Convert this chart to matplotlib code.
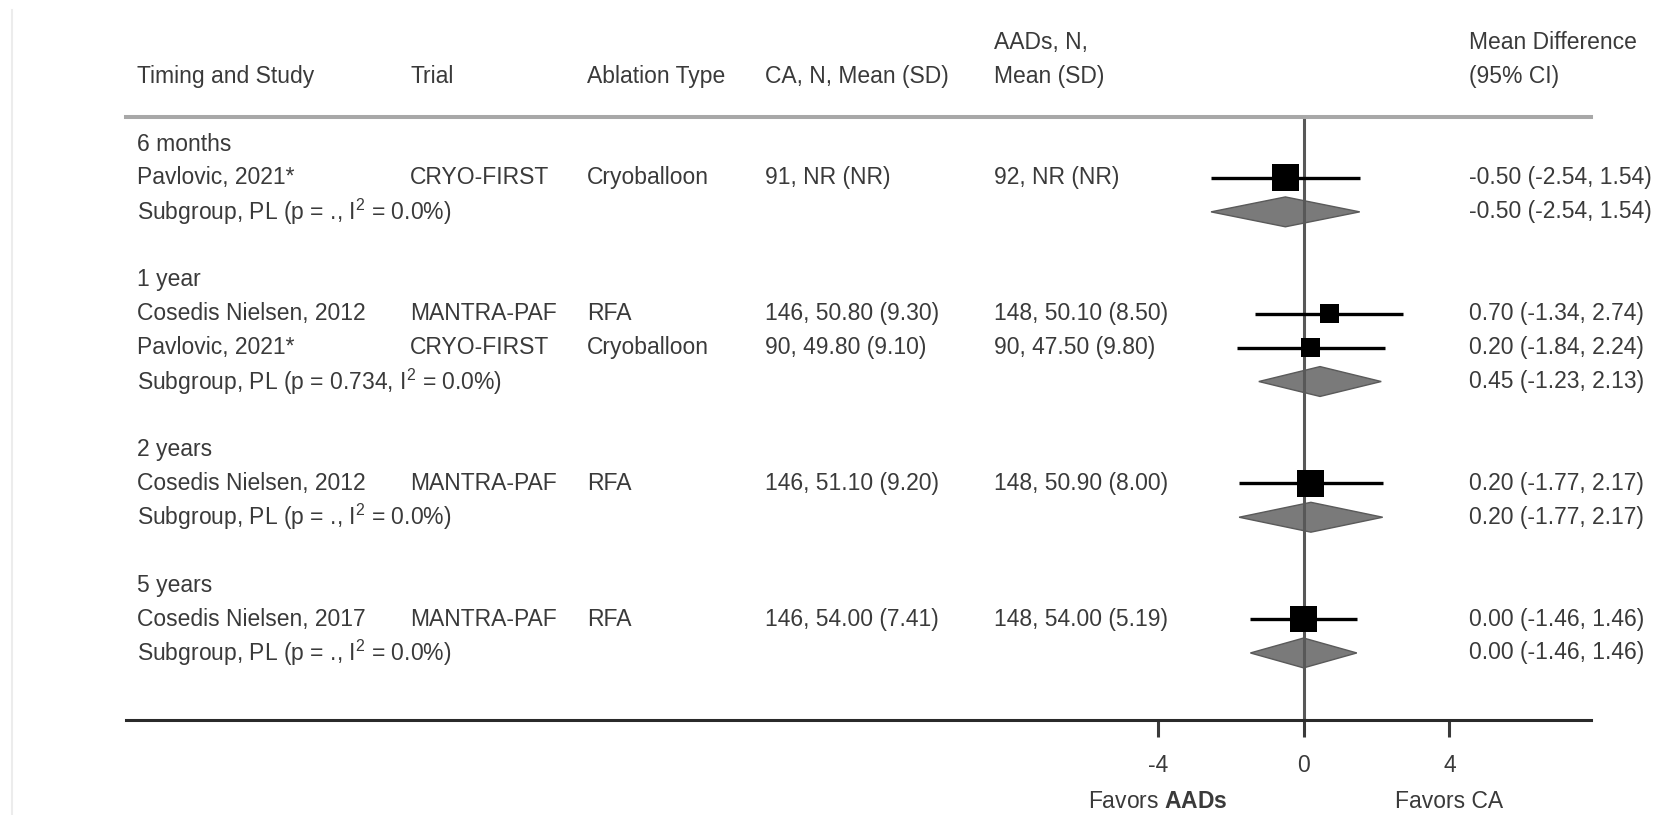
import numpy as np
import matplotlib
matplotlib.use("Agg")
import matplotlib.pyplot as plt
from matplotlib.patches import Polygon
from matplotlib.lines import Line2D
from matplotlib.transforms import blended_transform_factory

plt.rcParams['font.family'] = ['Liberation Sans', 'DejaVu Sans']
plt.rcParams['mathtext.fontset'] = 'custom'
plt.rcParams['mathtext.rm'] = 'Liberation Sans'
plt.rcParams['mathtext.bf'] = 'Liberation Sans:bold'
plt.rcParams['mathtext.default'] = 'regular'

# ---- data -------------------------------------------------------------
groups = ["6 months", "1 year", "2 years", "5 years"]
study_group = [0, 1, 1, 2, 3]
studies = ["Pavlovic, 2021*", "Cosedis Nielsen, 2012", "Pavlovic, 2021*",
           "Cosedis Nielsen, 2012", "Cosedis Nielsen, 2017"]
trials = ["CRYO-FIRST", "MANTRA-PAF", "CRYO-FIRST", "MANTRA-PAF", "MANTRA-PAF"]
ablation = ["Cryoballoon", "RFA", "Cryoballoon", "RFA", "RFA"]
ca_stats = ["91, NR (NR)", "146, 50.80 (9.30)", "90, 49.80 (9.10)",
            "146, 51.10 (9.20)", "146, 54.00 (7.41)"]
aad_stats = ["92, NR (NR)", "148, 50.10 (8.50)", "90, 47.50 (9.80)",
             "148, 50.90 (8.00)", "148, 54.00 (5.19)"]
md = [-0.50, 0.70, 0.20, 0.20, 0.00]
md_lo = [-2.54, -1.34, -1.84, -1.77, -1.46]
md_hi = [1.54, 2.74, 2.24, 2.17, 1.46]
weights = [100, 50, 50, 100, 100]

sub_p = [".", "0.734", ".", "."]
sub_i2 = [0.0, 0.0, 0.0, 0.0]
sub_md = [-0.50, 0.45, 0.20, 0.00]
sub_lo = [-2.54, -1.23, -1.77, -1.46]
sub_hi = [1.54, 2.13, 2.17, 1.46]

header_top = ["", "", "", "", "AADs, N,", "Mean Difference"]
header_bottom = ["Timing and Study", "Trial", "Ablation Type",
                 "CA, N, Mean (SD)", "Mean (SD)", "(95% CI)"]
xticks = [-4, 0, 4]
favors_left = r"Favors $\mathbf{AADs}$"
favors_right = "Favors CA"

# ---- styling ------------------------------------------------------------
TXT = "#3a3a3a"
FS = 16.5
col_x = [0.0075, 0.1939, 0.3147, 0.4362, 0.5925, 0.9167]  # axes fraction

# ---- row layout ---------------------------------------------------------
group_rows, sub_rows = [], []
study_rows = [0] * len(studies)
r = 0
for g in range(len(groups)):
    group_rows.append(r)
    r += 1
    for i, sg in enumerate(study_group):
        if sg == g:
            study_rows[i] = r
            r += 1
    sub_rows.append(r)
    r += 2

fig = plt.figure(figsize=(16.67, 8.15), dpi=100)
fig.patch.set_facecolor("white")
ax = fig.add_axes([126 / 1667, 1 - 720 / 815, 1465 / 1667, 603 / 815])
ax.set_xlim(-32.31, 7.885)
ax.set_ylim(16.976, -0.796)

# faint page edge at the left
fig.add_artist(Line2D([12 / 1667, 12 / 1667], [0, 1 - 10 / 815],
                      transform=fig.transFigure, color="#ececec", lw=1.5))

# zero line
ax.axvline(0, color="#585858", lw=2.2, zorder=2)

# study estimates
ax.hlines(study_rows, md_lo, md_hi, color="black", lw=2.4, zorder=3)
sizes = [(19.4 * np.sqrt(w / 100.0)) ** 2 for w in weights]
ax.scatter(md, study_rows, marker="s", s=sizes, color="black",
           linewidths=0, zorder=4)

# subgroup diamonds
h = 0.44
for m, lo, hi, y in zip(sub_md, sub_lo, sub_hi, sub_rows):
    ax.add_patch(Polygon([(lo, y), (m, y - h), (hi, y), (m, y + h)],
                         closed=True, facecolor="#7a7a7a",
                         edgecolor="#5a5a5a", lw=1.0, zorder=1))

# table text
tr = blended_transform_factory(ax.transAxes, ax.transData)
kw = dict(transform=tr, fontsize=FS, color=TXT, va="center", ha="left",
          clip_on=False)
for x, t in zip(col_x, header_top):
    if t:
        ax.text(x, -2.977, t, **kw)
for x, t in zip(col_x, header_bottom):
    ax.text(x, -1.975, t, **kw)

for g, y in enumerate(group_rows):
    ax.text(col_x[0], y, groups[g], **kw)
for i, y in enumerate(study_rows):
    ax.text(col_x[0], y, studies[i], **kw)
    ax.text(col_x[1], y, trials[i], **kw)
    ax.text(col_x[2], y, ablation[i], **kw)
    ax.text(col_x[3], y, ca_stats[i], **kw)
    ax.text(col_x[4], y, aad_stats[i], **kw)
    ax.text(col_x[5], y, f"{md[i]:.2f} ({md_lo[i]:.2f}, {md_hi[i]:.2f})", **kw)
for g, y in enumerate(sub_rows):
    ax.text(col_x[0], y,
            f"Subgroup, PL (p = {sub_p[g]}, I$^{{2}}$ = {sub_i2[g]:.1f}%)", **kw)
    ax.text(col_x[5], y,
            f"{sub_md[g]:.2f} ({sub_lo[g]:.2f}, {sub_hi[g]:.2f})", **kw)

# axes frame
for side in ("left", "right"):
    ax.spines[side].set_visible(False)
ax.spines["top"].set_color("#a8a8a8")
ax.spines["top"].set_linewidth(2.9)
ax.spines["bottom"].set_color("#2a2a2a")
ax.spines["bottom"].set_linewidth(2.2)
ax.set_yticks([])
ax.set_xticks(xticks)
ax.set_xticklabels([str(t) for t in xticks])
ax.tick_params(axis="x", direction="out", length=12.2, width=2.2,
               color="#3a3a3a", pad=12, labelsize=FS, labelcolor=TXT)

# direction labels under the axis
trb = blended_transform_factory(ax.transData, fig.transFigure)
ax.text(xticks[0], 1 - 802 / 815, favors_left, transform=trb, ha="center",
        va="center", fontsize=FS, color=TXT)
ax.text(xticks[2], 1 - 802 / 815, favors_right, transform=trb, ha="center",
        va="center", fontsize=FS, color=TXT)

fig.savefig("out.png", dpi=100, facecolor="white")
